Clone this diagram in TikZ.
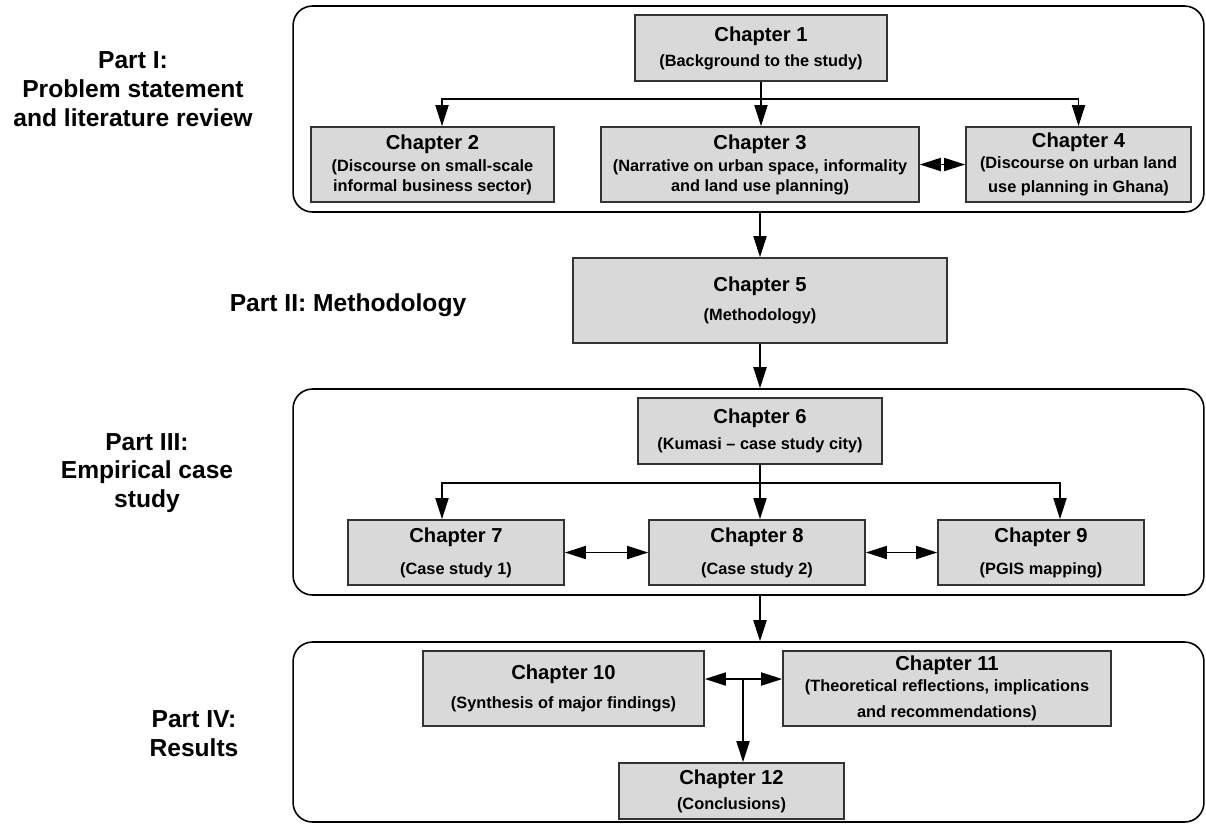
\documentclass[tikz,border=0pt]{standalone}
\usepackage{fontspec}
\setmainfont{Liberation Sans}
\usetikzlibrary{arrows.meta}

\newcommand{\chapfont}{\fontsize{11.5}{13.8}\selectfont\bfseries}
\newcommand{\subfont}{\fontsize{9.3}{11.2}\selectfont\bfseries}
\newcommand{\partfont}{\fontsize{14}{16.4}\selectfont\bfseries}
\newcommand{\chap}[3]{{\chapfont #1}\\[#2]#3}

\tikzset{
    chapbox/.style={draw=black!80, line width=1pt, fill=black!15, align=center, inner sep=1pt, font=\subfont},
    partbox/.style={draw=black, line width=0.9pt, rounded corners=11pt, inner sep=0pt},
    partlabel/.style={align=center, font=\partfont},
    link/.style={draw=black, line width=0.8pt, -{Triangle[length=12pt,width=7.5pt]}},
    duallink/.style={link, {Triangle[length=12pt,width=7.5pt]}-{Triangle[length=12pt,width=7.5pt]}},
}

\begin{document}
\begin{tikzpicture}[x=0.02cm, y=-0.02cm]
    % Globals
    \useasboundingbox (0,0) rectangle (1206,823);

    % Part containers
    \node[partbox, minimum width=18.22cm, minimum height=4.12cm] (partI) at (748.5,109) {};
    \node[partbox, minimum width=18.22cm, minimum height=4.12cm] (partIII) at (748.5,492) {};
    \node[partbox, minimum width=18.22cm, minimum height=3.6cm] (partIV) at (748.5,732) {};

    \node[partlabel] (lblI) at (133,89) {Part I:\\Problem statement\\and literature review};
    \node[partlabel] (lblII) at (348,305) {Part II: Methodology};
    \node[partlabel] (lblIII) at (147,473) {Part III:\\Empirical case\\study};
    \node[partlabel] (lblIV) at (194,734) {Part IV:\\Results};

    % Part I
    \node[chapbox, minimum width=5.04cm, minimum height=1.32cm] (ch1) at (761,48)
        {\chap{Chapter 1}{3pt}{(Background to the study)}};
    \node[chapbox, minimum width=4.86cm, minimum height=1.5cm] (ch2) at (432.5,164.5)
        {\chap{Chapter 2}{1.5pt}{(Discourse on small-scale\\informal business sector)}};
    \node[chapbox, minimum width=6.36cm, minimum height=1.5cm] (ch3) at (760,164.5)
        {\chap{Chapter 3}{1.5pt}{(Narrative on urban space, informality\\and land use planning)}};
    \node[chapbox, minimum width=4.5cm, minimum height=1.5cm] (ch4) at (1078.5,164.5)
        {\chap{Chapter 4}{1pt}{(Discourse on urban land\\[2.5pt]use planning in Ghana)}};

    \coordinate (SPLIT_I) at (761,99);
    \draw[link] (ch1.south) -- (ch1.south |- ch3.north);
    \draw[link] (SPLIT_I) -| ([xshift=0.19cm]ch2.north);
    \draw[link] (SPLIT_I) -| (ch4.north);
    \draw[duallink] (ch3.east) -- (ch4.west);

    % Part II
    \node[chapbox, minimum width=7.48cm, minimum height=1.7cm] (ch5) at (760,300.5)
        {\chap{Chapter 5}{5.5pt}{(Methodology)}};
    \draw[link] (ch5.north |- partI.south) -- (ch5.north);
    \draw[link] (ch5.south) -- (ch5.south |- partIII.north);

    % Part III
    \node[chapbox, minimum width=4.88cm, minimum height=1.32cm] (ch6) at (760,431)
        {\chap{Chapter 6}{4pt}{(Kumasi -- case study city)}};
    \node[chapbox, minimum width=4.32cm, minimum height=1.3cm] (ch7) at (456,552.5)
        {\chap{Chapter 7}{7pt}{(Case study 1)}};
    \node[chapbox, minimum width=4.32cm, minimum height=1.3cm] (ch8) at (757,552.5)
        {\chap{Chapter 8}{7pt}{(Case study 2)}};
    \node[chapbox, minimum width=4.12cm, minimum height=1.3cm] (ch9) at (1041,552.5)
        {\chap{Chapter 9}{7pt}{(PGIS mapping)}};

    \coordinate (SPLIT_III) at (760,483);
    \draw[link] (ch6.south) -- (ch6.south |- ch8.north);
    \draw[link] (SPLIT_III) -| ([xshift=-0.28cm]ch7.north);
    \draw[link] (SPLIT_III) -| ([xshift=0.38cm]ch9.north);
    \draw[duallink] (ch7.east) -- (ch8.west);
    \draw[duallink] (ch8.east) -- (ch9.west);

    \draw[link] (ch6.south |- partIII.south) -- (ch6.south |- partIV.north);

    % Part IV
    \node[chapbox, minimum width=5.62cm, minimum height=1.5cm] (ch10) at (563.5,688.5)
        {\chap{Chapter 10}{5pt}{(Synthesis of major findings)}};
    \node[chapbox, minimum width=6.56cm, minimum height=1.5cm] (ch11) at (947,688.5)
        {\chap{Chapter 11}{1pt}{(Theoretical reflections, implications\\[3.5pt]and recommendations)}};
    \node[chapbox, minimum width=4.5cm, minimum height=1.12cm] (ch12) at (731.5,791)
        {\chap{Chapter 12}{3pt}{(Conclusions)}};

    \coordinate (SPLIT_IV) at (743,679);
    \draw[duallink] (ch10.east |- SPLIT_IV) -- (ch11.west |- SPLIT_IV);
    \draw[link] (SPLIT_IV) -- (SPLIT_IV |- ch12.north);

\end{tikzpicture}
\end{document}
